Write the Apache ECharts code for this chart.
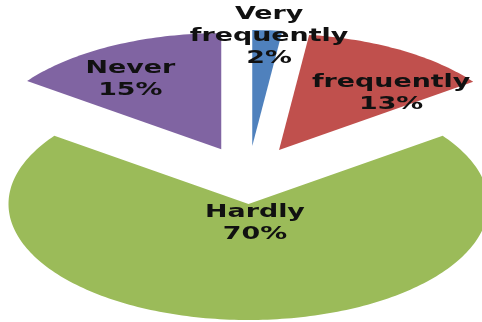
<!DOCTYPE html>
<html>
<head>
<meta charset="utf-8">
<script src="https://cdn.jsdelivr.net/npm/echarts@6/dist/echarts.min.js"></script>
<style>
  html, body { margin: 0; padding: 0; background: #ffffff; }
  #chart { width: 482px; height: 322px; }
</style>
</head>
<body>
<div id="chart"></div>
<script>
// Survey answers, share of respondents
const categories = ['Very frequently', 'frequently', 'Hardly', 'Never'];
const values = [2, 13, 70, 15];
const colors = ['#4F81BD', '#C0504D', '#9BBB59', '#8064A2'];

// Tilted pie layout: ellipse centre, radii, explosion fraction
const layout = { cx: 248.5, cy: 175, rx: 240, ry: 116, explode: 0.25 };
// Label anchors as fractions of the radii, relative to each exploded slice tip
const labelAt = [[0.07, -0.94], [0.467, -0.49], [0.027, 0.17], [-0.379, -0.6]];

const total = values.reduce((a, b) => a + b, 0);
const starts = [];
values.reduce((acc, v) => { starts.push(acc); return acc + v; }, 0);
const seriesData = values.map((v, i) => [v, starts[i]]);

function renderItem(params, api) {
  const i = params.dataIndex;
  const v = api.value(0);
  const before = api.value(1);
  const a0 = before / total * Math.PI * 2;
  const a1 = (before + v) / total * Math.PI * 2;
  const mid = (a0 + a1) / 2;
  const { cx, cy, rx, ry, explode } = layout;
  const ax = cx + explode * rx * Math.sin(mid);
  const ay = cy - explode * ry * Math.cos(mid);
  const pts = [[ax, ay]];
  const steps = Math.max(4, Math.ceil((a1 - a0) / 0.02));
  for (let k = 0; k <= steps; k++) {
    const a = a0 + (a1 - a0) * k / steps;
    pts.push([ax + rx * Math.sin(a), ay - ry * Math.cos(a)]);
  }
  const pct = Math.round(v / total * 100);
  const text = categories[i].replace(' ', '\n') + '\n' + pct + '%';
  return {
    type: 'group',
    children: [
      {
        type: 'polygon',
        shape: { points: pts },
        style: { fill: colors[i], stroke: null }
      },
      {
        type: 'text',
        x: ax + labelAt[i][0] * rx,
        y: ay + labelAt[i][1] * ry,
        scaleX: 1.58,
        z2: 10,
        style: {
          text: text,
          fill: '#111111',
          fontSize: 17,
          fontWeight: 'bold',
          fontFamily: 'DejaVu Sans',
          lineHeight: 22,
          align: 'center',
          verticalAlign: 'middle'
        }
      }
    ]
  };
}

const chart = echarts.init(document.getElementById('chart'), null, { renderer: 'canvas' });
chart.setOption({
  backgroundColor: '#ffffff',
  animation: false,
  series: [{
    type: 'custom',
    coordinateSystem: 'none',
    renderItem: renderItem,
    data: seriesData
  }]
});
</script>
</body>
</html>
